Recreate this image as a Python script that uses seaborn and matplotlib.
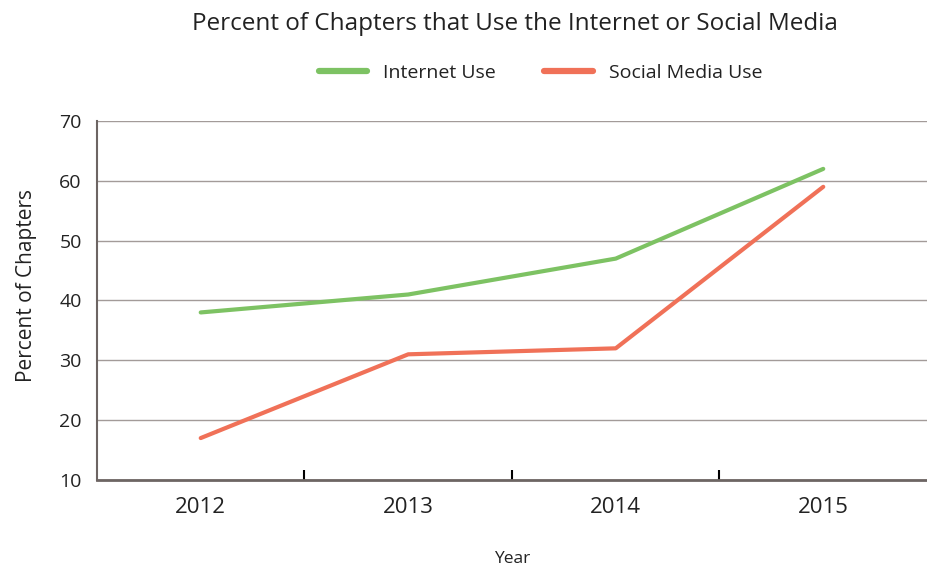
import matplotlib
matplotlib.use("Agg")
import matplotlib.pyplot as plt
import seaborn as sns
import pandas as pd
from matplotlib.ticker import FixedLocator
from matplotlib.lines import Line2D

years = ["2012", "2013", "2014", "2015"]
internet_use = [38, 41, 47, 62]
social_media_use = [17, 31, 32, 59]
series_names = ["Internet Use", "Social Media Use"]
colors = ["#7dc263", "#f07158"]

df = pd.DataFrame({
    "Year": list(range(len(years))) * 2,
    "Value": internet_use + social_media_use,
    "Series": [series_names[0]] * len(years) + [series_names[1]] * len(years),
})

sns.set_style("white")
plt.rcParams["font.family"] = ["Open Sans", "DejaVu Sans"]

fig = plt.figure(figsize=(9.27, 5.70), dpi=100)
ax = fig.add_axes([0.1046, 0.158, 0.8954, 0.6297])

sns.lineplot(data=df, x="Year", y="Value", hue="Series", palette=colors,
             linewidth=3, ax=ax, legend=False, solid_capstyle="round")

ax.set_xlim(-0.5, len(years) - 0.5)
ax.set_ylim(10, 70)
ax.set_yticks(range(10, 71, 10))
ax.yaxis.grid(True, color="#a39b99", linewidth=1)
ax.set_axisbelow(True)
for s in ["top", "right"]:
    ax.spines[s].set_visible(False)
ax.spines["left"].set_color("#6d6563")
ax.spines["bottom"].set_color("#6d6563")
ax.spines["left"].set_linewidth(1.5)
ax.spines["bottom"].set_linewidth(2)

ax.set_xticks(range(len(years)))
ax.set_xticklabels(years, fontsize=16, color="#222222")
ax.xaxis.set_minor_locator(FixedLocator([0.5, 1.5, 2.5]))
ax.tick_params(axis="x", which="major", length=0, pad=12)
ax.tick_params(axis="x", which="minor", bottom=True, length=7, width=1.5,
               color="black", direction="in")
ax.tick_params(axis="y", length=0, labelsize=14, labelcolor="#222222", pad=11)

ax.set_xlabel("Year", fontsize=12.5, color="#222222", labelpad=24)
ax.set_ylabel("Percent of Chapters", fontsize=15, color="#222222")
ax.yaxis.set_label_coords(-0.072, 0.543)

fig.text(0.555, 0.958, "Percent of Chapters that Use the Internet or Social Media",
         ha="center", va="center", fontsize=17.5, color="#222222")

handles = [Line2D([0], [0], color=c, linewidth=4.5) for c in colors]
fig.legend(handles, series_names, loc="center", bbox_to_anchor=(0.583, 0.872),
           ncol=2, frameon=False, fontsize=14, handlelength=2.5, columnspacing=2.5,
           handletextpad=0.8, labelcolor="#222222")

fig.savefig("out.png", dpi=100)
